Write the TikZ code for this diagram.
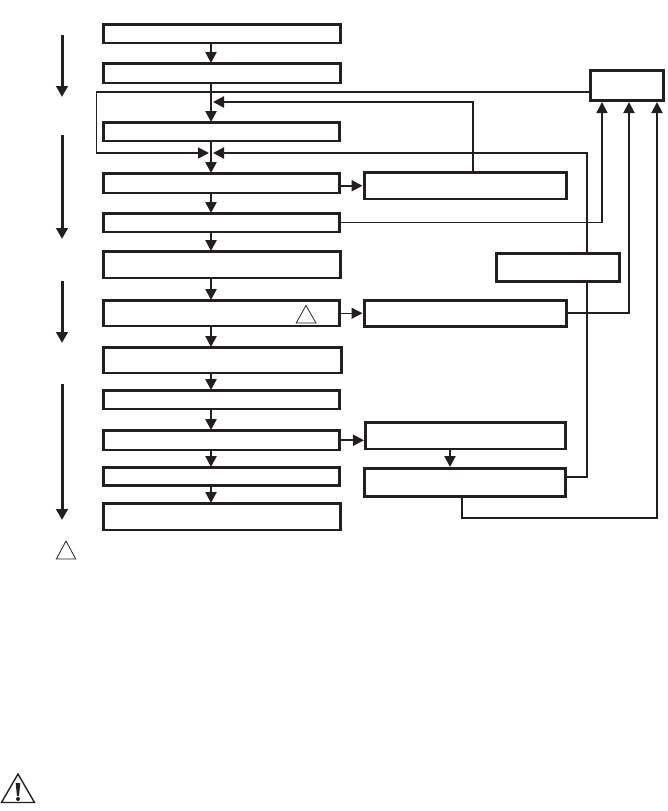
\documentclass[tikz,border=0pt]{standalone}
\usetikzlibrary{arrows.meta}
\definecolor{ink}{HTML}{231F20}
\tikzset{
  bx/.style={draw=ink,line width=2.9pt,rectangle,inner sep=0pt,outer sep=0pt},
  flow/.style={draw=ink,line width=2.5pt,-{Triangle[length=11pt,width=11pt]},shorten >=0.5pt},
  side/.style={draw=ink,line width=2pt,-{Triangle[length=11pt,width=11pt]},shorten >=0.5pt},
  phase/.style={draw=ink,line width=3pt,-{Triangle[length=11pt,width=11.5pt]}},
  wire/.style={draw=ink,line width=2pt},
  note/.style={draw=ink,line width=0.8pt,line join=miter}
}
\newcommand{\boxat}[5]{%
  \pgfmathsetmacro{\bxw}{#4-#2}\pgfmathsetmacro{\bxh}{#5-#3}%
  \pgfmathsetmacro{\bxx}{(#4+#2)/2}\pgfmathsetmacro{\bxy}{(#5+#3)/2}%
  \node[bx,minimum width=\bxw pt,minimum height=\bxh pt] (#1) at (\bxx,\bxy) {};}
\begin{document}
\begin{tikzpicture}[x=1pt,y=-1pt]
\useasboundingbox (0,0) rectangle (667,811);
% main column
\boxat{b1}{103.5}{24.5}{340.5}{43}
\boxat{b2}{103.5}{63.5}{340.5}{83}
\boxat{b3}{103.5}{122.5}{339.5}{141}
\boxat{b4}{103.5}{173.5}{339.5}{193}
\boxat{b5}{103.5}{213.5}{339.5}{232}
\boxat{b6}{103.5}{251.5}{340.5}{278}
\boxat{b7}{103.5}{300.5}{339.5}{326}
\boxat{b8}{103.5}{347.5}{341.5}{373}
\boxat{b9}{103.5}{390.5}{339.5}{409}
\boxat{b10}{103.5}{430.5}{339.5}{450}
\boxat{b11}{103.5}{467.5}{339.5}{485.5}
\boxat{b12}{103.5}{503.5}{340.5}{530}
% side boxes
\boxat{r1}{364.5}{172.5}{566.5}{199}
\boxat{r2}{364.5}{300.5}{566.5}{326.5}
\boxat{r3}{365.5}{422.5}{565.5}{449}
\boxat{r4}{364.5}{468.5}{565.5}{496.5}
\boxat{t}{590.5}{70.5}{663.5}{100.5}
\boxat{m}{496.5}{253.5}{619.5}{281.5}
% guide coordinates
\coordinate (sp) at (211,0);
\coordinate (j1) at (211,102);
\coordinate (j2) at (211,153);
\coordinate (fl) at (96.5,92);
\coordinate (mx) at (587,0);
\coordinate (r1x) at (473,0);
\coordinate (a1) at (602,222.5);
\coordinate (a2) at (629,312.5);
\coordinate (a3) at (657,518);
\coordinate (r4b) at (462,518);
\coordinate (r4e) at (565.5,477);
\coordinate (r3x) at (450,0);
% main spine
\draw[flow] (sp |- b1.south) -- (sp |- b2.north);
\draw[flow] (sp |- b2.south) -- (sp |- b3.north);
\draw[flow] (sp |- b3.south) -- (sp |- b4.north);
\draw[flow] (sp |- b4.south) -- (sp |- b5.north);
\draw[flow] (sp |- b5.south) -- (sp |- b6.north);
\draw[flow] (sp |- b6.south) -- (sp |- b7.north);
\draw[flow] (sp |- b7.south) -- (sp |- b8.north);
\draw[flow] (sp |- b8.south) -- (sp |- b9.north);
\draw[flow] (sp |- b9.south) -- (sp |- b10.north);
\draw[flow] (sp |- b10.south) -- (sp |- b11.north);
\draw[flow] (sp |- b11.south) -- (sp |- b12.north);
% to side boxes
\draw[side,shorten >=2pt] (b4.east |- r1.west) -- (r1.west);
\draw[side,line width=1.4pt,shorten >=2pt] (b7.east) -- (r2.west |- b7.east);
\draw[side,shorten >=1.5pt] (b10.east) -- (r3.west |- b10.east);
\draw[side,shorten >=1.5pt] (r3x |- r3.south) -- (r3x |- r4.north);
% feedback lines
\draw[side,line width=1.7pt,shorten >=2pt] (t.west |- fl) -- (fl) -- (fl |- j2) -- (j2);
\draw[side,shorten >=2pt] (r1x |- r1.north) -- (r1x |- j1) -- (j1);
\draw[side,shorten >=2pt] (mx |- m.north) -- (mx |- j2) -- (j2);
\draw[wire] (mx |- m.south) -- (mx |- r4e) -- (r4e);
\draw[side,line width=1.6pt,shorten >=1.5pt] (b5.east |- a1) -- (a1) -- (a1 |- t.south);
\draw[side,shorten >=1.5pt] (r2.east |- a2) -- (a2) -- (a2 |- t.south);
\draw[side,shorten >=1.5pt] (r4b |- r4.south) -- (r4b) -- (a3) -- (a3 |- t.south);
% phase arrows at left
\coordinate (p1a) at (62,35);   \coordinate (p1b) at (62,97);
\coordinate (p2a) at (62,135);  \coordinate (p2b) at (62,239);
\coordinate (p3a) at (62,281);  \coordinate (p3b) at (62,343);
\coordinate (p4a) at (62,384);  \coordinate (p4b) at (62,520);
\draw[phase] (p1a) -- (p1b);
\draw[phase] (p2a) -- (p2b);
\draw[phase] (p3a) -- (p3b);
\draw[phase] (p4a) -- (p4b);
% note triangles
\draw[note] (306,305.5) -- (316,323) -- (296.2,323) -- cycle;
\draw[note] (66,541) -- (75.7,559) -- (56.3,559) -- cycle;
% warning sign
\draw[draw=ink,line width=1.4pt,line join=miter] (18,774) -- (34.5,802.5) -- (1.5,802.5) -- cycle;
\fill[ink] (15.7,783) -- (20.3,783) -- (19,796) -- (17,796) -- cycle;
\fill[ink] (18,799) circle (2pt);
\end{tikzpicture}
\end{document}
